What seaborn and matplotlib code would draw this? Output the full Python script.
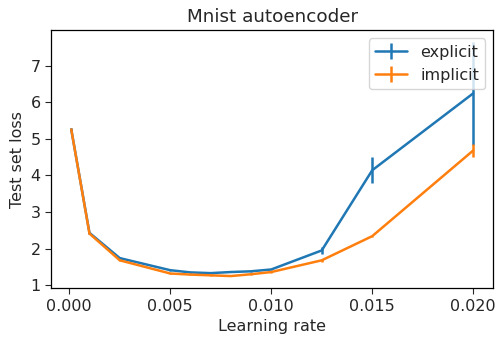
import matplotlib
matplotlib.use("Agg")
import matplotlib.pyplot as plt
import seaborn as sns

# === data ===
learning_rate = [0.0001, 0.001, 0.0025, 0.005, 0.006, 0.007, 0.008, 0.009, 0.010, 0.0125, 0.015, 0.020]
explicit_loss = [5.25, 2.43, 1.74, 1.41, 1.35, 1.33, 1.36, 1.38, 1.43, 1.95, 4.14, 6.24]
explicit_err = [0.03, 0.02, 0.03, 0.02, 0.02, 0.01, 0.01, 0.01, 0.02, 0.10, 0.36, 1.40]
implicit_loss = [5.25, 2.41, 1.68, 1.32, 1.29, 1.27, 1.25, 1.30, 1.36, 1.68, 2.34, 4.68]
implicit_err = [0.03, 0.02, 0.03, 0.02, 0.02, 0.01, 0.01, 0.01, 0.03, 0.04, 0.01, 0.17]

sns.set_style("ticks")
colors = sns.color_palette("tab10")
fs = 11.5

fig, ax = plt.subplots(figsize=(4.97, 3.41), dpi=100)
fig.subplots_adjust(left=0.103, right=0.9926, top=0.911, bottom=0.155)
ax.errorbar(learning_rate, explicit_loss, yerr=explicit_err, color=colors[0], lw=1.8, label="explicit")
ax.errorbar(learning_rate, implicit_loss, yerr=implicit_err, color=colors[1], lw=1.8, label="implicit")

ax.set_title("Mnist autoencoder", fontsize=13.2)
ax.set_xlabel("Learning rate", fontsize=fs)
ax.set_ylabel("Test set loss", fontsize=fs)
ax.set_xticks([0.000, 0.005, 0.010, 0.015, 0.020])
ax.set_yticks([1, 2, 3, 4, 5, 6, 7])
ax.tick_params(direction="out", length=4, labelsize=fs)
for s in ax.spines.values():
    s.set_color("black")
    s.set_linewidth(0.9)
ax.legend(loc="upper right", fontsize=fs, framealpha=0.8)

plt.savefig("out.png", dpi=100)
plt.close()
